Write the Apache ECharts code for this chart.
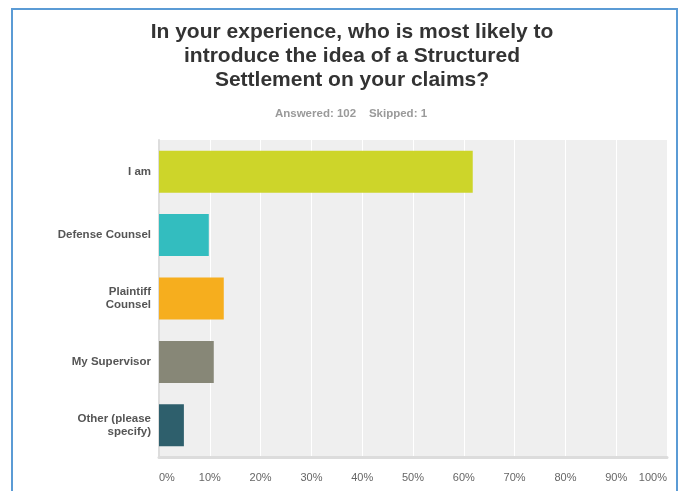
<!DOCTYPE html>
<html>
<head>
<meta charset="utf-8">
<script src="https://cdn.jsdelivr.net/npm/echarts@6/dist/echarts.min.js"></script>
<style>
  html, body { margin: 0; padding: 0; background: #ffffff; }
  #chart { width: 680px; height: 491px; }
</style>
</head>
<body>
<div id="chart"></div>
<script>
// Survey answers (top to bottom) and share of respondents, in percent
const categories = ['I am', 'Defense Counsel', 'Plaintiff\nCounsel', 'My Supervisor', 'Other (please\nspecify)'];
const shares = [61.76, 9.80, 12.75, 10.78, 4.90];
const barColors = ['#cdd52a', '#33bdbf', '#f6ae1e', '#878777', '#2e5f6c'];
const tickValues = [0, 10, 20, 30, 40, 50, 60, 70, 80, 90, 100];

const titleText = 'In your experience, who is most likely to\nintroduce the idea of a Structured\nSettlement on your claims?';
const subText = 'Answered: 102    Skipped: 1';

const chart = echarts.init(document.getElementById('chart'), null, { renderer: 'canvas' });

chart.setOption({
  backgroundColor: '#ffffff',
  animation: false,
  graphic: [{
    type: 'rect',
    shape: { x: 12, y: 9, width: 665, height: 500 },
    style: { fill: 'none', stroke: '#5b9bd5', lineWidth: 2 },
    z: 10
  }],
  title: [{
    text: titleText,
    left: 347,
    top: 15,
    textAlign: 'center',
    textStyle: {
      fontFamily: 'Liberation Sans, Arial, sans-serif',
      fontSize: 21,
      fontWeight: 'bold',
      color: '#333333',
      lineHeight: 24
    }
  }, {
    text: subText,
    left: 346,
    top: 103,
    textAlign: 'center',
    textStyle: {
      fontFamily: 'Liberation Sans, Arial, sans-serif',
      fontSize: 11.5,
      fontWeight: 'bold',
      color: '#9a9a9a'
    }
  }],
  grid: {
    left: 159,
    right: 13,
    top: 140,
    bottom: 34,
    show: true,
    backgroundColor: '#efefef',
    borderWidth: 0,
    containLabel: false
  },
  xAxis: {
    type: 'value',
    min: 0,
    max: 100,
    interval: 10,
    axisLine: { show: true, lineStyle: { color: '#dcdcdc', width: 3 } },
    axisTick: { show: false },
    splitLine: { show: true, lineStyle: { color: '#ffffff', width: 1 } },
    axisLabel: {
      formatter: function (v) { return tickValues.indexOf(v) >= 0 ? v + '%' : ''; },
      color: '#666666',
      fontFamily: 'Liberation Sans, Arial, sans-serif',
      fontSize: 11,
      margin: 15,
      alignMinLabel: 'left',
      alignMaxLabel: 'right'
    }
  },
  yAxis: {
    type: 'category',
    inverse: true,
    data: categories,
    axisLine: { show: true, lineStyle: { color: '#dddddd', width: 2 } },
    axisTick: { show: false },
    splitLine: { show: false },
    axisLabel: {
      color: '#555555',
      fontFamily: 'Liberation Sans, Arial, sans-serif',
      fontSize: 11.5,
      fontWeight: 'bold',
      lineHeight: 13,
      align: 'right',
      margin: 8
    }
  },
  series: [{
    type: 'bar',
    data: shares.map(function (v, i) {
      return { value: v, itemStyle: { color: barColors[i] } };
    }),
    barWidth: 42,
    silent: true
  }]
});
</script>
</body>
</html>
